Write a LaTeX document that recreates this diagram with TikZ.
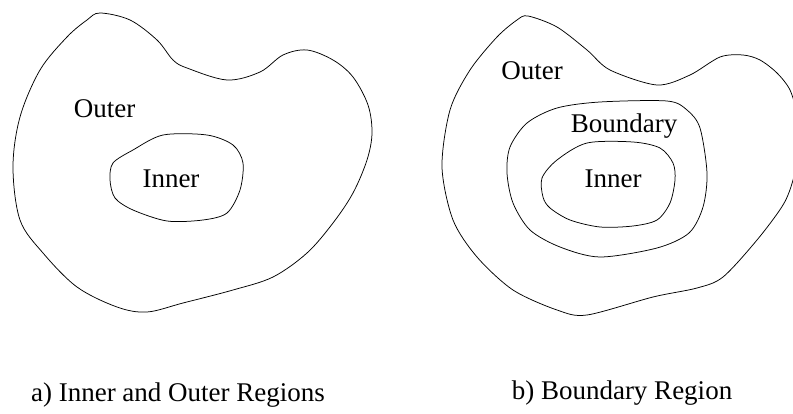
\documentclass[tikz,border=0pt]{standalone}
\usepackage{fontspec}
\setmainfont{Liberation Serif}
\begin{document}
\begin{tikzpicture}[x=1pt,y=-1pt,
  region/.style={draw=black,line width=0.75pt},
  lbl/.style={anchor=base,inner sep=0pt,font=\fontsize{27}{32}\selectfont}]
\useasboundingbox (0,0) rectangle (793,414);
\clip (0,0) rectangle (793,414);
% (a) outer
\draw[region] plot[smooth cycle,tension=0.55] coordinates {(100,13) (130,20) (157,40) (173,60) (187,68) (227,80) (260,72) (283,55) (307,50) (333,60) (353,77) (368,105) (372,133) (367,160) (353,193) (333,223) (307,253) (273,277) (233,290) (183,303) (147,312) (117,307) (77,287) (43,253) (20,220) (13,167) (20,117) (40,70) (67,37) (87,20)};
% (a) inner
\draw[region] plot[smooth cycle] coordinates {(133,150) (163,135) (207,135) (233,145) (243,163) (240,190) (227,213) (203,220) (167,221) (133,210) (115,198) (110,180) (113,163)};
% (b) outer
\draw[region] plot[smooth cycle] coordinates {(528,16) (557,27) (587,50) (610,70) (657,85) (690,75) (720,57) (743,55) (760,60) (777,73) (790,90) (797,115) (799,148) (793,180) (783,205) (757,240) (723,277) (697,288) (653,297) (587,315) (557,310) (513,290) (477,257) (453,220) (442,167) (450,110) (470,70) (497,37) (517,20)};
% (b) boundary
\draw[region] plot[smooth cycle] coordinates {(527,123) (557,108) (600,102) (667,101) (687,110) (700,128) (707,173) (703,207) (689,233) (657,248) (600,257) (560,247) (530,230) (513,203) (507,173) (510,147)};
% (b) inner
\draw[region] plot[smooth cycle] coordinates {(557,160) (587,143) (633,142) (660,148) (673,163) (675,180) (670,203) (657,220) (633,226) (600,227) (570,220) (550,208) (543,197) (542,178)};
\node[lbl] (outerA) at (104.5,118) {Outer};
\node[lbl] (innerA) at (171,188) {Inner};
\node[lbl] (outerB) at (532,80) {Outer};
\node[lbl] (boundB) at (624,133) {Boundary};
\node[lbl] (innerB) at (613,188) {Inner};
\node[lbl] (capA) at (178,401) {a) Inner and Outer Regions};
\node[lbl] (capB) at (622,399) {b) Boundary Region};
\end{tikzpicture}
\end{document}
